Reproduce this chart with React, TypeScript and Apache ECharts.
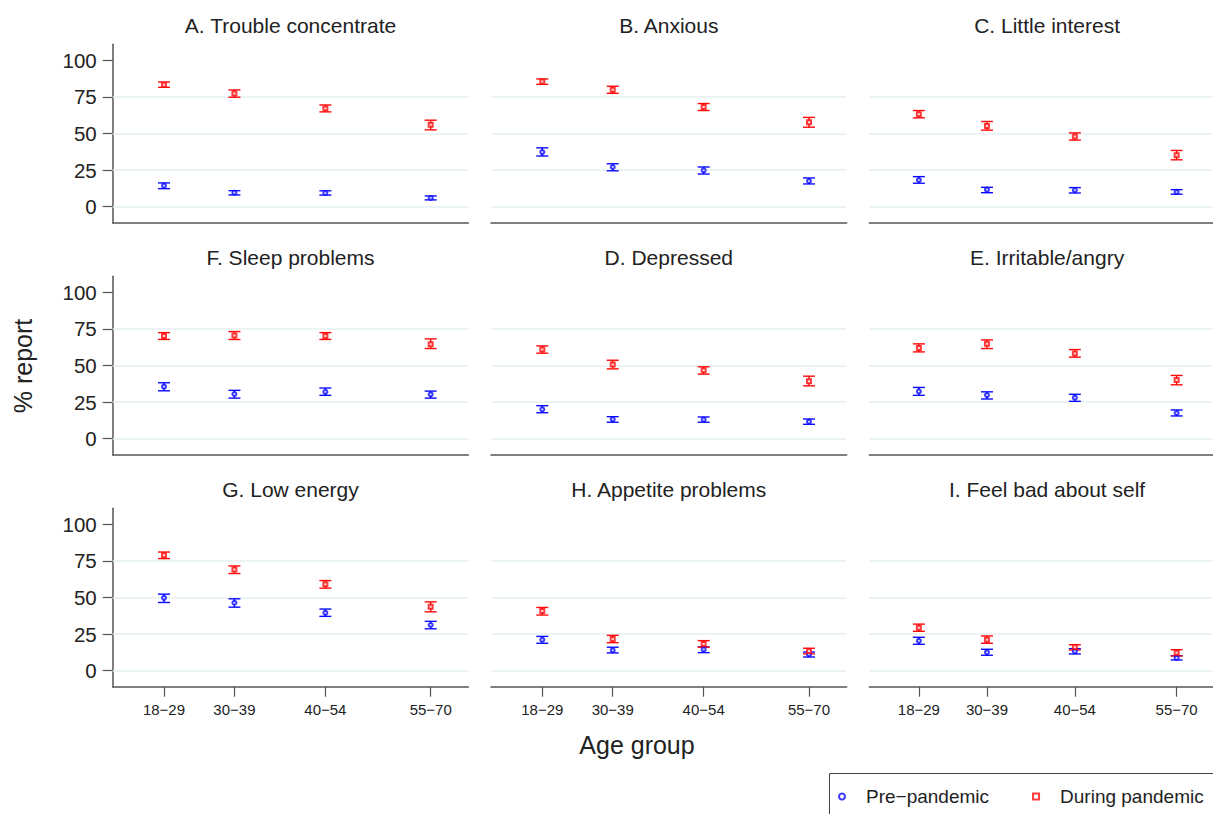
import React, { useEffect, useRef } from "react";
import * as echarts from "echarts";

// ---- data ----
const ageLabels = ["18\u221229", "30\u221239", "40\u221254", "55\u221270"];
const ageX = [23.5, 33.8, 47.1, 62.5]; // mean age within group (x position)
const panelTitles = [
  "A. Trouble concentrate",
  "B. Anxious",
  "C. Little interest",
  "F. Sleep problems",
  "D. Depressed",
  "E. Irritable/angry",
  "G. Low energy",
  "H. Appetite problems",
  "I. Feel bad about self",
];
const yTicks = [0, 25, 50, 75, 100];
const gridValues = [0, 25, 50, 75];

const preMean = [
  [14.3, 9.5, 9.3, 5.9],
  [37.3, 27.1, 24.8, 17.5],
  [18.2, 11.6, 11.2, 10.0],
  [35.5, 30.5, 32.0, 30.3],
  [20.0, 13.2, 13.0, 11.6],
  [32.3, 29.8, 28.0, 17.5],
  [49.8, 46.4, 39.5, 31.2],
  [21.1, 13.9, 14.5, 11.2],
  [20.4, 12.5, 13.2, 8.7],
];
const preLo = [
  [12.3, 8.0, 7.9, 4.6],
  [34.6, 24.5, 22.3, 15.5],
  [16.0, 9.5, 9.3, 8.5],
  [32.7, 27.7, 29.6, 27.7],
  [17.7, 11.2, 11.2, 9.8],
  [29.6, 27.1, 25.5, 15.5],
  [46.6, 43.4, 37.1, 28.6],
  [18.7, 12.1, 12.3, 9.3],
  [18.0, 10.5, 11.4, 7.3],
];
const preHi = [
  [16.2, 10.9, 10.8, 7.3],
  [40.2, 29.3, 27.1, 19.6],
  [20.5, 13.2, 13.0, 11.6],
  [38.2, 33.0, 34.6, 32.5],
  [22.5, 15.0, 14.8, 13.4],
  [35.0, 32.0, 30.3, 19.6],
  [52.3, 49.1, 42.1, 33.7],
  [23.4, 16.0, 16.2, 12.7],
  [22.8, 14.6, 15.0, 10.2],
];
const durMean = [
  [83.4, 77.3, 67.1, 55.9],
  [85.5, 80.0, 68.2, 57.7],
  [63.2, 55.2, 48.0, 35.2],
  [70.2, 70.5, 70.2, 64.6],
  [60.9, 50.7, 46.8, 39.3],
  [62.0, 64.8, 58.2, 40.0],
  [78.9, 69.1, 59.1, 43.6],
  [40.7, 21.6, 18.2, 13.4],
  [29.3, 21.1, 16.2, 12.3],
];
const durLo = [
  [81.6, 74.8, 64.8, 52.5],
  [83.6, 77.5, 65.7, 54.3],
  [60.7, 52.3, 45.5, 32.0],
  [67.8, 67.8, 67.8, 61.6],
  [58.4, 47.7, 44.1, 36.1],
  [59.3, 61.6, 55.7, 36.8],
  [76.6, 66.4, 56.4, 40.2],
  [38.0, 19.1, 16.0, 11.4],
  [26.9, 18.7, 14.1, 10.0],
];
const durHi = [
  [85.2, 79.8, 69.5, 59.1],
  [87.3, 82.3, 70.5, 61.0],
  [65.7, 58.2, 50.4, 38.4],
  [72.5, 73.2, 72.5, 68.2],
  [63.4, 53.6, 49.1, 42.7],
  [64.8, 67.5, 60.9, 43.2],
  [81.1, 71.6, 61.6, 47.0],
  [43.2, 24.1, 20.5, 15.3],
  [31.8, 23.7, 17.7, 14.3],
];

const seriesNames = ["Pre\u2212pandemic", "During pandemic"];
const BLUE = "#0a0aff";
const RED = "#ff0a0a";

// ---- layout ----
const colLeft = [112.7, 491, 869.3];
const rowTop = [44.3, 276.3, 508.3];
const plotW = 355.6;
const plotH = 178.4;
const FONT = "Liberation Sans, Arial, Helvetica, sans-serif";

function errorBarSeries(idx: number, color: string, lo: number[], hi: number[]) {
  return {
    type: "custom",
    xAxisIndex: idx,
    yAxisIndex: idx,
    silent: true,
    z: 3,
    encode: { x: 0, y: [1, 2] },
    data: ageX.map((x, i) => [x, lo[i], hi[i]]),
    renderItem: (params: any, api: any) => {
      const x = api.value(0);
      const pLo = api.coord([x, api.value(1)]);
      const pHi = api.coord([x, api.value(2)]);
      const style = { stroke: color, lineWidth: 1.4, fill: "none" };
      const cw = 6;
      return {
        type: "group",
        children: [
          { type: "line", shape: { x1: pLo[0], y1: pLo[1], x2: pHi[0], y2: pHi[1] }, style },
          { type: "line", shape: { x1: pLo[0] - cw, y1: pLo[1], x2: pLo[0] + cw, y2: pLo[1] }, style },
          { type: "line", shape: { x1: pHi[0] - cw, y1: pHi[1], x2: pHi[0] + cw, y2: pHi[1] }, style },
        ],
      };
    },
  };
}

function buildOption() {
  const grid: any[] = [];
  const xAxis: any[] = [];
  const yAxis: any[] = [];
  const title: any[] = [];
  const series: any[] = [];
  for (let p = 0; p < 9; p++) {
    const r = Math.floor(p / 3);
    const c = p % 3;
    grid.push({ left: colLeft[c], top: rowTop[r], width: plotW, height: plotH, containLabel: false });
    title.push({
      text: panelTitles[p],
      left: colLeft[c] + plotW / 2,
      textAlign: "center",
      top: rowTop[r] - 29,
      padding: 0,
      textStyle: { fontFamily: FONT, fontSize: 21, fontWeight: "normal", color: "#222" },
    });
    const bottomRow = r === 2;
    xAxis.push({
      type: "value",
      gridIndex: p,
      min: 16,
      max: 68,
      splitLine: { show: false },
      axisLine: { show: true, onZero: false, lineStyle: { color: "#555", width: 1.5 } },
      axisTick: {
        show: bottomRow,
        customValues: ageX,
        length: 10,
        lineStyle: { color: "#555", width: 1.2 },
      },
      axisLabel: {
        show: bottomRow,
        customValues: ageX,
        margin: 15,
        fontFamily: FONT,
        fontSize: 15,
        color: "#222",
        formatter: (v: number) => {
          let best = 0;
          for (let i = 1; i < ageX.length; i++) {
            if (Math.abs(ageX[i] - v) < Math.abs(ageX[best] - v)) best = i;
          }
          return ageLabels[best];
        },
      },
    });
    const leftCol = c === 0;
    yAxis.push({
      type: "value",
      gridIndex: p,
      min: -11,
      max: 111,
      splitLine: { show: false },
      axisLine: { show: leftCol, onZero: false, lineStyle: { color: "#555", width: 1.5 } },
      axisTick: {
        show: leftCol,
        customValues: yTicks,
        length: 10,
        lineStyle: { color: "#555", width: 1.2 },
      },
      axisLabel: {
        show: leftCol,
        customValues: yTicks,
        margin: 16,
        fontFamily: FONT,
        fontSize: 20.5,
        color: "#222",
      },
    });
    series.push(errorBarSeries(p, BLUE, preLo[p], preHi[p]));
    series.push(errorBarSeries(p, RED, durLo[p], durHi[p]));
    series.push({
      type: "scatter",
      name: seriesNames[0],
      xAxisIndex: p,
      yAxisIndex: p,
      symbol: "emptyCircle",
      symbolSize: 4,
      z: 4,
      silent: true,
      itemStyle: { color: BLUE, borderColor: BLUE, borderWidth: 1.3 },
      data: ageX.map((x, i) => [x, preMean[p][i]]),
      markLine: {
        silent: true,
        symbol: "none",
        label: { show: false },
        lineStyle: { color: "#e6eff0", width: 1.5, type: "solid" },
        data: gridValues.map((v) => ({ yAxis: v })),
        z: 1,
      },
    });
    series.push({
      type: "scatter",
      name: seriesNames[1],
      xAxisIndex: p,
      yAxisIndex: p,
      symbol: "emptyRect",
      symbolSize: 4,
      z: 4,
      silent: true,
      itemStyle: { color: RED, borderColor: RED, borderWidth: 1.3 },
      data: ageX.map((x, i) => [x, durMean[p][i]]),
    });
  }

  return {
    animation: false,
    backgroundColor: "#ffffff",
    textStyle: { fontFamily: FONT },
    title,
    grid,
    xAxis,
    yAxis,
    series,
    legend: {
      data: seriesNames,
      left: 838,
      top: 787,
      itemWidth: 6,
      itemHeight: 6,
      itemGap: 43,
      padding: 0,
      textStyle: { fontFamily: FONT, fontSize: 19, color: "#222", padding: [0, 0, 0, 16] },
    },
    graphic: [
      {
        type: "rect",
        shape: { x: 829.5, y: 773.5, width: 500, height: 100 },
        style: { fill: "none", stroke: "#444", lineWidth: 1 },
        silent: true,
      },
      {
        type: "text",
        x: 637,
        y: 745,
        style: {
          text: "Age group",
          fontFamily: FONT,
          fontSize: 25,
          fill: "#222",
          align: "center",
          verticalAlign: "middle",
        },
      },
      {
        type: "text",
        x: 23,
        y: 366,
        rotation: Math.PI / 2,
        style: {
          text: "% report",
          fontFamily: FONT,
          fontSize: 25,
          fill: "#222",
          align: "center",
          verticalAlign: "middle",
        },
      },
    ],
  };
}

export default function App() {
  const ref = useRef<HTMLDivElement>(null);
  useEffect(() => {
    if (!ref.current) return;
    const chart = echarts.init(ref.current, null, { renderer: "svg" });
    chart.setOption(buildOption() as any);
    return () => chart.dispose();
  }, []);
  return (
    <div
      ref={ref}
      style={{ position: "fixed", left: 0, top: 0, width: 1213, height: 814, background: "#fff" }}
    />
  );
}
